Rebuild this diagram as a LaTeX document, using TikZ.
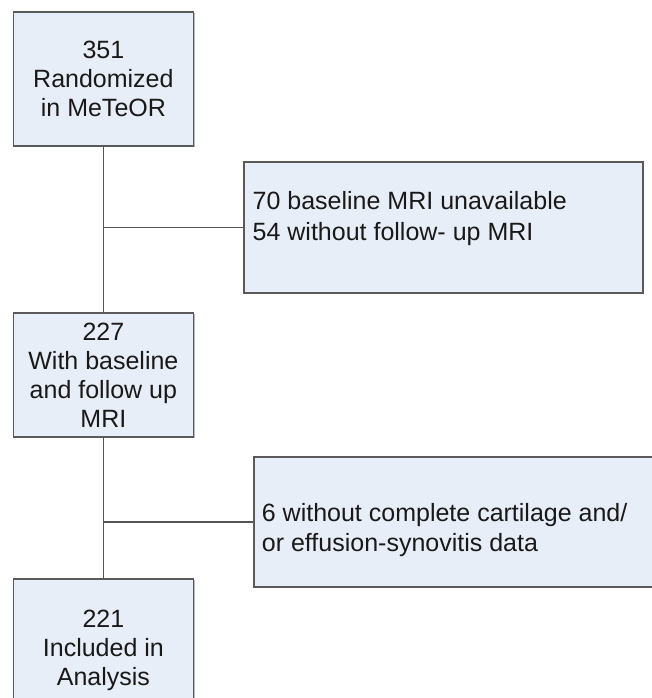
\documentclass[tikz,border=0pt]{standalone}
\usepackage{fontspec}
\setmainfont{Liberation Sans}
\usetikzlibrary{shadows}
\definecolor{boxfill}{RGB}{232,238,247}
\definecolor{boxline}{RGB}{90,90,90}
\definecolor{conn}{RGB}{85,85,85}
\definecolor{txt}{RGB}{25,25,25}
\tikzset{
  flowbox/.style={draw=boxline, fill=boxfill, line width=1.1pt, inner sep=0pt,
    drop shadow={shadow xshift=1.2pt, shadow yshift=-1.2pt, fill=black!45, opacity=0.6}},
  boxtext/.style={text=txt, inner sep=0pt, font=\fontsize{25}{29}\selectfont},
  conline/.style={draw=conn, line width=1.1pt}
}
\begin{document}
\begin{tikzpicture}[x=1pt,y=-1pt]
\useasboundingbox (0,0) rectangle (652,698);
\clip (0,0) rectangle (652,698);
\fill[white] (0,0) rectangle (652,698);
% left boxes
\node[flowbox, boxtext, align=center, minimum width=179.8pt, minimum height=134pt] (b1) at (103.4,79) {351\\Randomized\\in MeTeOR};
\node[flowbox, boxtext, align=center, minimum width=179.8pt, minimum height=124pt] (b2) at (103.4,375) {227\\With baseline\\and follow up\\MRI};
\node[flowbox, boxtext, align=center, minimum width=179.8pt, minimum height=143pt] (b3) at (103.4,650.5) {221\\Included in\\Analysis};
% right boxes
\node[flowbox, minimum width=399pt, minimum height=131pt] (r1) at (443.5,227.5) {};
\node[flowbox, minimum width=406pt, minimum height=130pt] (r2) at (457,522) {};
\node[boxtext, font=\fontsize{25}{30.5}\selectfont, align=left, anchor=west] (t1) at (252.5,218.4) {70 baseline MRI unavailable\\54 without follow- up MRI};
\node[boxtext, font=\fontsize{25}{30}\selectfont, align=left, anchor=west] (t2) at (261.7,530.4) {6 without complete cartilage and/\\or effusion-synovitis data};
% connectors
\coordinate (j1) at (103.4,227.7);
\coordinate (j2) at (103.4,522);
\draw[conline] (b1.south) -- (b2.north);
\draw[conline] (b2.south) -- (b3.north);
\draw[conline] (j1) -- (r1.west |- j1);
\draw[conline] (j2) -- (r2.west |- j2);
\end{tikzpicture}
\end{document}
